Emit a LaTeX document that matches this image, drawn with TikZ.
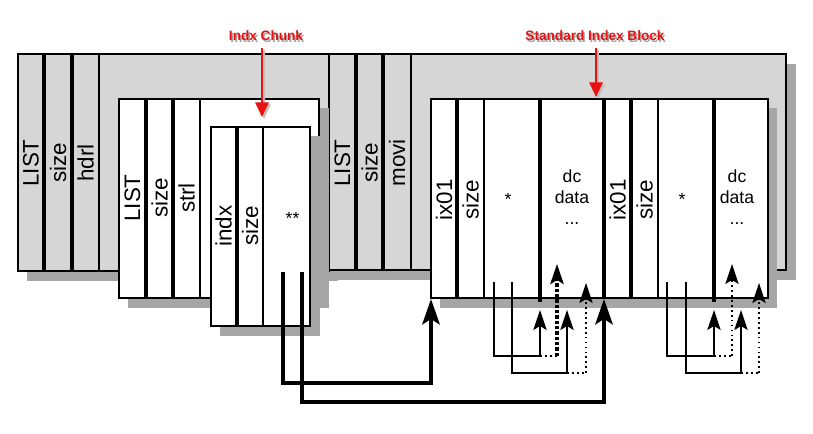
\documentclass[tikz,border=0pt]{standalone}
\usepackage{fontspec}
\setmainfont{Liberation Sans}
\usetikzlibrary{arrows.meta}
\definecolor{boxgray}{RGB}{214,214,214}
\definecolor{shadowgray}{RGB}{166,166,166}
\definecolor{labelred}{RGB}{232,16,16}
\begin{document}
\begin{tikzpicture}[x=0.75pt,y=-0.75pt,
  shadowbox/.style={fill=shadowgray,draw=none},
  graybox/.style={fill=boxgray,draw=black,line width=1.6pt},
  whitebox/.style={fill=white,draw=black,line width=1.6pt},
  septhick/.style={line width=2.3pt},
  septhin/.style={line width=1.1pt},
  vlabel/.style={rotate=90,font=\fontsize{16.8}{20}\selectfont,inner sep=0pt},
  hlabel/.style={font=\fontsize{13.2}{16}\selectfont,inner sep=0pt,anchor=base},
  thickconn/.style={line width=3pt,-{Stealth[length=19pt,width=13pt,inset=4pt]}},
  thinconn/.style={line width=1.1pt,-{Stealth[length=15pt,width=10pt,inset=3pt]}},
  dotline/.style={line width=1.1pt,dash pattern=on 1.3pt off 2.4pt},
  dotconn/.style={line width=1.1pt,dash pattern=on 1.3pt off 2.4pt,-{Stealth[length=15pt,width=10pt,inset=3pt]}},
  bigdotconn/.style={line width=2.4pt,dash pattern=on 2.4pt off 1.6pt,-{Stealth[length=15pt,width=10pt,inset=3pt]}},
  callout/.style={font=\fontsize{10.2}{12}\selectfont\bfseries,text=labelred,inner sep=1pt},
  calloutshadow/.style={font=\fontsize{10.2}{12}\selectfont\bfseries,text=black!35,inner sep=1pt},
  redarrow/.style={draw=labelred,line width=1.5pt,-{Triangle[length=11pt,width=10pt]}},
  redshadow/.style={draw=black!25,line width=1.5pt,-{Triangle[length=11pt,width=10pt]}}
]
\useasboundingbox (0,0) rectangle (813,433);

% ---------- outer LIST hdrl ----------
\fill[shadowbox] (27,64) rectangle (338,281);
\draw[graybox] (18,54) rectangle (329,271);
\draw[septhick] (44,54) -- (44,271);
\draw[septhick] (72,54) -- (72,271);
\draw[septhin] (99,54) -- (99,271);
\node[vlabel] (l1) at (31,163) {LIST};
\node[vlabel] (s1) at (58,163) {size};
\node[vlabel] (h1) at (85.5,163) {hdrl};

% ---------- outer LIST movi ----------
\fill[shadowbox] (338,64) rectangle (796,280);
\draw[graybox] (329,54) rectangle (786,270);
\draw[septhick] (356,54) -- (356,270);
\draw[septhick] (383,54) -- (383,270);
\draw[septhin] (411,54) -- (411,270);
\node[vlabel] (l2) at (342.5,163) {LIST};
\node[vlabel] (s2) at (369.5,163) {size};
\node[vlabel] (m2) at (397,163) {movi};

% ---------- LIST strl ----------
\fill[shadowbox] (128,108) rectangle (329,308);
\draw[whitebox] (119,99) rectangle (319,298);
\draw[septhick] (146,99) -- (146,298);
\draw[septhick] (173,99) -- (173,298);
\draw[septhin] (200,99) -- (200,298);
\node[vlabel] (l3) at (132.5,198) {LIST};
\node[vlabel] (s3) at (159.5,198) {size};
\node[vlabel] (st3) at (186.5,198) {strl};

% ---------- indx chunk ----------
\fill[shadowbox] (220,136) rectangle (320,336);
\draw[whitebox] (211,127) rectangle (310,326);
\draw[septhick] (237,127) -- (237,326);
\draw[septhin] (263,127) -- (263,326);
\node[vlabel] (ix) at (223.5,226) {indx};
\node[vlabel] (s4) at (250,226) {size};
\node[hlabel] (stars) at (292.5,224) {**};

% ---------- standard index block ----------
\fill[shadowbox] (440,108) rectangle (777,308);
\draw[whitebox] (431,99) rectangle (768,298);
\draw[septhick] (457,99) -- (457,298);
\draw[septhin] (484,99) -- (484,298);
\draw[septhick] (540,99) -- (540,302);
\draw[septhick] (604,99) -- (604,298);
\draw[septhick] (631,99) -- (631,298);
\draw[septhin] (658,99) -- (658,298);
\draw[septhick] (714,99) -- (714,302);
\node[vlabel] (ixa) at (444,200) {ix01};
\node[vlabel] (sa) at (470.5,200) {size};
\node[hlabel] (sta) at (508,205) {*};
\node[hlabel] (dca) at (572,182) {dc};
\node[hlabel] (daa) at (572,203) {data};
\node[hlabel] (dta) at (572,224) {...};
\node[vlabel] (ixb) at (617.5,200) {ix01};
\node[vlabel] (sb) at (644.5,200) {size};
\node[hlabel] (stb) at (682,205) {*};
\node[hlabel] (dcb) at (737,182) {dc};
\node[hlabel] (dab) at (737,203) {data};
\node[hlabel] (dtb) at (737,224) {...};

% ---------- thick connectors from indx ----------
\coordinate (p1s) at (283,272);
\coordinate (p1a) at (283,383);
\coordinate (p1b) at (431,383);
\coordinate (p1e) at (431,299);
\coordinate (p2s) at (302,272);
\coordinate (p2a) at (302,402);
\coordinate (p2b) at (604,402);
\coordinate (p2e) at (604,299);
\draw[thickconn] (p1s) -- (p1a) -- (p1b) -- (p1e);
\draw[thickconn] (p2s) -- (p2a) -- (p2b) -- (p2e);

% ---------- thin connectors block A ----------
\coordinate (a1s) at (494,282);
\coordinate (a1a) at (494,356);
\coordinate (a1b) at (540,356);
\coordinate (a1e) at (540,310);
\coordinate (a1c) at (557,356);
\coordinate (a1f) at (557,264);
\coordinate (a2s) at (512,282);
\coordinate (a2a) at (512,373);
\coordinate (a2b) at (567,373);
\coordinate (a2e) at (567,310);
\coordinate (a2c) at (586,373);
\coordinate (a2f) at (586,283);
\draw[thinconn] (a1s) -- (a1a) -- (a1b) -- (a1e);
\draw[dotline] (a1b) -- (a1c);
\draw[bigdotconn] (a1c) -- (a1f);
\draw[thinconn] (a2s) -- (a2a) -- (a2b) -- (a2e);
\draw[dotline] (a2b) -- (a2c);
\draw[dotconn] (a2c) -- (a2f);

% ---------- thin connectors block B ----------
\coordinate (b1s) at (667,282);
\coordinate (b1a) at (667,356);
\coordinate (b1b) at (714,356);
\coordinate (b1e) at (714,310);
\coordinate (b1c) at (732,356);
\coordinate (b1f) at (732,264);
\coordinate (b2s) at (686,282);
\coordinate (b2a) at (686,373);
\coordinate (b2b) at (741,373);
\coordinate (b2e) at (741,310);
\coordinate (b2c) at (759,373);
\coordinate (b2f) at (759,283);
\draw[thinconn] (b1s) -- (b1a) -- (b1b) -- (b1e);
\draw[dotline] (b1b) -- (b1c);
\draw[dotconn] (b1c) -- (b1f);
\draw[thinconn] (b2s) -- (b2a) -- (b2b) -- (b2e);
\draw[dotline] (b2b) -- (b2c);
\draw[dotconn] (b2c) -- (b2f);

% ---------- callouts ----------
\node[calloutshadow] at (267.5,37.5) {Indx Chunk};
\node[callout] (lab1) at (266,36) {Indx Chunk};
\coordinate (r1s) at (262,48);
\coordinate (r1e) at (262,117);
\draw[redshadow] (264,50) -- (264,119);
\draw[redarrow] (r1s) -- (r1e);

\node[calloutshadow] at (596.5,37.5) {Standard Index Block};
\node[callout] (lab2) at (595,36) {Standard Index Block};
\coordinate (r2s) at (596,48);
\coordinate (r2e) at (596,97);
\draw[redshadow] (598,50) -- (598,99);
\draw[redarrow] (r2s) -- (r2e);
\end{tikzpicture}
\end{document}
